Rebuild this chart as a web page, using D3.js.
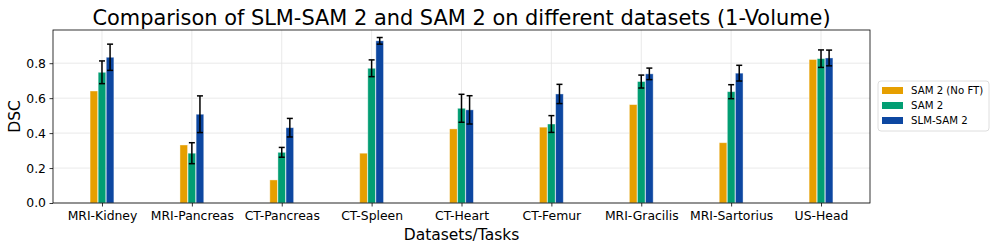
<!DOCTYPE html>
<html>
<head>
<meta charset="utf-8">
<script src="https://cdn.jsdelivr.net/npm/d3@7"></script>
<style>
  body { margin: 0; background: #fff; }
  svg { display: block; font-family: "DejaVu Sans", sans-serif; }
  .grid line { stroke: #e3e3e3; stroke-width: 0.8; }
</style>
</head>
<body>
<div id="chart"></div>
<script>
const datasets = ["MRI-Kidney", "MRI-Pancreas", "CT-Pancreas", "CT-Spleen", "CT-Heart", "CT-Femur", "MRI-Gracilis", "MRI-Sartorius", "US-Head"];
const seriesNames = ["SAM 2 (No FT)", "SAM 2", "SLM-SAM 2"];
const colours = ["#E69F00", "#029E73", "#0D47A1"];

const noFtMean = [0.641, 0.332, 0.132, 0.285, 0.424, 0.434, 0.563, 0.345, 0.821];
const sam2Mean = [0.748, 0.285, 0.290, 0.771, 0.542, 0.452, 0.695, 0.637, 0.826];
const sam2Std = [0.065, 0.060, 0.028, 0.048, 0.080, 0.048, 0.037, 0.040, 0.050];
const slmMean = [0.834, 0.508, 0.431, 0.928, 0.533, 0.624, 0.739, 0.743, 0.830];
const slmStd = [0.075, 0.105, 0.053, 0.019, 0.081, 0.055, 0.033, 0.045, 0.045];

const yTicks = [0.0, 0.2, 0.4, 0.6, 0.8];

const width = 997;
const height = 250;
const margin = {left: 53, right: 127, top: 30, bottom: 47};

const series = [
	{name: seriesNames[0], mean: noFtMean, std: null},
	{name: seriesNames[1], mean: sam2Mean, std: sam2Std},
	{name: seriesNames[2], mean: slmMean, std: slmStd},
];

const barWidth = 0.085;
const barStep = 0.09;

const x = d3.scaleLinear()
	.domain([-0.545, datasets.length - 1 + 0.545])
	.range([margin.left, width - margin.right]);

const y = d3.scaleLinear()
	.domain([0, 0.99])
	.range([height - margin.bottom, margin.top]);

const svg = d3.select("#chart")
	.append("svg")
	.attr("width", width)
	.attr("height", height);

// Grid
const grid = svg.append("g").attr("class", "grid");
grid.selectAll(".gx")
	.data(datasets)
	.enter()
	.append("line")
	.attr("x1", (d, i) => x(i))
	.attr("x2", (d, i) => x(i))
	.attr("y1", margin.top)
	.attr("y2", height - margin.bottom);
grid.selectAll(".gy")
	.data(yTicks)
	.enter()
	.append("line")
	.attr("x1", margin.left)
	.attr("x2", width - margin.right)
	.attr("y1", (d) => y(d))
	.attr("y2", (d) => y(d));

// Bars
series.forEach((s, si) => {
	const g = svg.append("g").attr("class", "series");
	const offset = (si - 1) * barStep;
	g.selectAll("rect")
		.data(s.mean)
		.enter()
		.append("rect")
		.attr("x", (d, i) => x(i + offset - barWidth / 2))
		.attr("width", x(barWidth) - x(0))
		.attr("y", (d) => y(d))
		.attr("height", (d) => y(0) - y(d))
		.attr("fill", colours[si])
		.attr("stroke", "rgba(255,255,255,0.5)")
		.attr("stroke-width", 0.8);

	if (s.std) {
		const cap = 3;
		const eb = g.selectAll(".err")
			.data(s.mean.map((m, i) => ({i, m, e: s.std[i]})))
			.enter()
			.append("g")
			.attr("stroke", "#000")
			.attr("stroke-width", 1.5);
		eb.append("line")
			.attr("x1", (d) => x(d.i + offset))
			.attr("x2", (d) => x(d.i + offset))
			.attr("y1", (d) => y(d.m - d.e))
			.attr("y2", (d) => y(d.m + d.e));
		eb.append("line")
			.attr("x1", (d) => x(d.i + offset) - cap)
			.attr("x2", (d) => x(d.i + offset) + cap)
			.attr("y1", (d) => y(d.m - d.e))
			.attr("y2", (d) => y(d.m - d.e));
		eb.append("line")
			.attr("x1", (d) => x(d.i + offset) - cap)
			.attr("x2", (d) => x(d.i + offset) + cap)
			.attr("y1", (d) => y(d.m + d.e))
			.attr("y2", (d) => y(d.m + d.e));
	}
});

// Axes
const xAxis = svg.append("g")
	.attr("transform", `translate(0,${height - margin.bottom})`)
	.call(d3.axisBottom(x).tickValues(d3.range(datasets.length)).tickFormat((i) => datasets[i]).tickSize(3.5).tickPadding(4.5));
const yAxis = svg.append("g")
	.attr("transform", `translate(${margin.left},0)`)
	.call(d3.axisLeft(y).tickValues(yTicks).tickFormat(d3.format(".1f")).tickSize(3.5).tickPadding(3.5));

[xAxis, yAxis].forEach((a) => {
	a.select(".domain").remove();
	a.selectAll("text").attr("font-size", 12.4).attr("fill", "#000").attr("font-family", "DejaVu Sans");
	a.selectAll("line").attr("stroke", "#000").attr("stroke-width", 0.8);
});

// Frame
svg.append("rect")
	.attr("x", margin.left)
	.attr("y", margin.top)
	.attr("width", width - margin.left - margin.right)
	.attr("height", height - margin.top - margin.bottom)
	.attr("fill", "none")
	.attr("stroke", "#000")
	.attr("stroke-width", 0.8);

// Labels
svg.append("text")
	.attr("x", (margin.left + width - margin.right) / 2)
	.attr("y", 25)
	.attr("text-anchor", "middle")
	.attr("font-size", 20.9)
	.text("Comparison of SLM-SAM 2 and SAM 2 on different datasets (1-Volume)");

svg.append("text")
	.attr("x", (margin.left + width - margin.right) / 2)
	.attr("y", 240)
	.attr("text-anchor", "middle")
	.attr("font-size", 15.5)
	.text("Datasets/Tasks");

svg.append("text")
	.attr("transform", `translate(${20},${(margin.top + height - margin.bottom) / 2}) rotate(-90)`)
	.attr("text-anchor", "middle")
	.attr("font-size", 15.5)
	.text("DSC");

// Legend
const legend = svg.append("g").attr("transform", "translate(878,81)");
legend.append("rect")
	.attr("width", 111)
	.attr("height", 50)
	.attr("rx", 3)
	.attr("fill", "#fff")
	.attr("stroke", "#d6d6d6")
	.attr("stroke-width", 0.8);
const item = legend.selectAll(".item")
	.data(seriesNames)
	.enter()
	.append("g")
	.attr("transform", (d, i) => `translate(4,${9.5 + i * 15})`);
item.append("rect")
	.attr("x", 0)
	.attr("y", -3.5)
	.attr("width", 21)
	.attr("height", 7)
	.attr("fill", (d, i) => colours[i]);
item.append("text")
	.attr("x", 29)
	.attr("dy", "0.35em")
	.attr("font-size", 10.2)
	.text((d) => d);
</script>
</body>
</html>
